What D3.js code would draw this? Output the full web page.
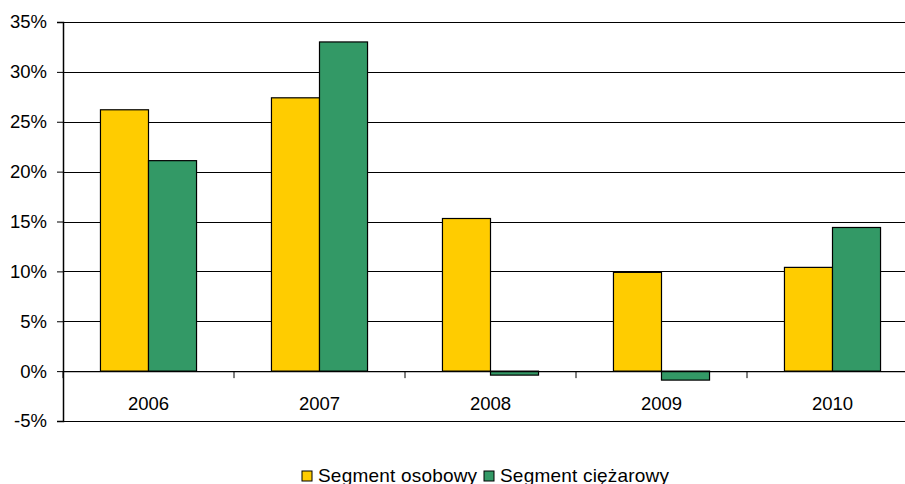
<!DOCTYPE html>
<html>
<head>
<meta charset="utf-8">
<script src="https://cdn.jsdelivr.net/npm/d3@7"></script>
<style>
  html, body { margin: 0; padding: 0; background: #fff; }
  svg { display: block; }
  text { font-family: "Liberation Sans", Arial, sans-serif; fill: #000; }
</style>
</head>
<body>
<svg id="chart" width="905" height="484"></svg>
<script>
// Annual growth by segment (%)
const years = ["2006", "2007", "2008", "2009", "2010"];
const seriesNames = ["Segment osobowy", "Segment ciężarowy"];
const osobowy = [26.2, 27.4, 15.3, 9.9, 10.4];
const ciezarowy = [21.1, 33.0, -0.4, -0.9, 14.4];
const yTicks = [-5, 0, 5, 10, 15, 20, 25, 30, 35];
const colors = ["#FFCC00", "#339966"];

const svg = d3.select("#chart");
const W = 905;
const plotLeft = 63, plotRight = 918, plotTop = 22, plotBottom = 421;

const x = d3.scaleBand().domain(years).range([plotLeft, plotRight]).padding(0);
const xs = d3.scaleBand().domain(seriesNames).range([0, x.bandwidth()])
  .paddingInner(0).paddingOuter(0.78);
const y = d3.scaleLinear().domain([-5, 35]).range([plotBottom, plotTop]);

const rows = years.map((yr, i) => ({ year: yr, values: [osobowy[i], ciezarowy[i]] }));

// horizontal gridlines
svg.append("g").selectAll("line")
  .data(yTicks.filter(t => t !== 0))
  .join("line")
  .attr("x1", plotLeft).attr("x2", W)
  .attr("y1", d => Math.round(y(d)) + 0.5).attr("y2", d => Math.round(y(d)) + 0.5)
  .attr("stroke", "#000").attr("stroke-width", 1.2);

// bars
const groups = svg.append("g").selectAll("g")
  .data(rows).join("g")
  .attr("transform", d => `translate(${x(d.year)},0)`);
groups.selectAll("rect")
  .data(d => d.values.map((v, k) => ({ key: seriesNames[k], v, k })))
  .join("rect")
  .attr("x", d => xs(d.key))
  .attr("width", xs.bandwidth())
  .attr("y", d => y(Math.max(0, d.v)))
  .attr("height", d => Math.abs(y(d.v) - y(0)))
  .attr("fill", d => colors[d.k])
  .attr("stroke", "#000").attr("stroke-width", 1.2);

// y axis
const yAxis = d3.axisLeft(y).tickValues(yTicks).tickSize(6).tickPadding(10)
  .tickFormat(d => d + "%");
const ya = svg.append("g").attr("transform", `translate(${plotLeft},0)`).call(yAxis);
ya.select(".domain").attr("stroke", "#000").attr("stroke-width", 1.5);
ya.selectAll(".tick line").attr("stroke", "#000");
ya.selectAll("text").style("font-size", "18.5px")
  .style("font-family", "'Liberation Sans', Arial, sans-serif");

// zero line with category dividers
const xAxis = d3.axisBottom(x).tickSize(0).tickPadding(26);
const xa = svg.append("g").attr("transform", `translate(0,${y(0)})`).call(xAxis);
xa.select(".domain").attr("stroke", "#000").attr("stroke-width", 1.2);
xa.selectAll("text").style("font-size", "18.5px")
  .style("font-family", "'Liberation Sans', Arial, sans-serif");
xa.append("g").selectAll("line")
  .data(years)
  .join("line")
  .attr("x1", (d, i) => plotLeft + x.step() * i)
  .attr("x2", (d, i) => plotLeft + x.step() * i)
  .attr("y1", 0).attr("y2", 7)
  .attr("stroke", "#000");

// legend
const legend = svg.append("g").attr("transform", "translate(302,471)");
const items = [
  { name: seriesNames[0], color: colors[0], x: 0 },
  { name: seriesNames[1], color: colors[1], x: 182 }
];
const li = legend.selectAll("g").data(items).join("g")
  .attr("transform", d => `translate(${d.x},0)`);
li.append("rect").attr("width", 10).attr("height", 10)
  .attr("fill", d => d.color).attr("stroke", "#000").attr("stroke-width", 1);
li.append("text").attr("x", 16).attr("y", 10.5)
  .style("font-size", "19px").style("letter-spacing", "0.2px")
  .text(d => d.name);
</script>
</body>
</html>
